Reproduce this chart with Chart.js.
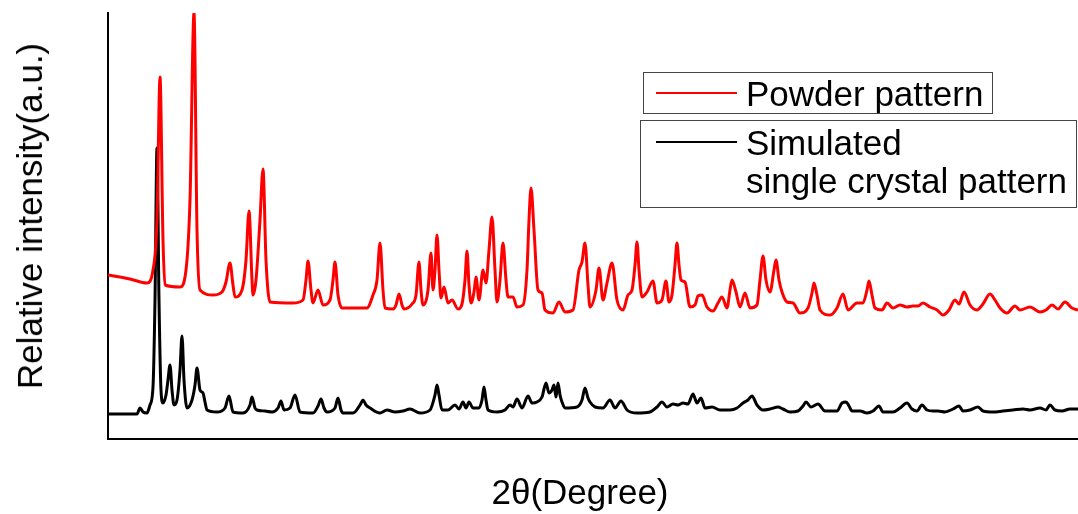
<!DOCTYPE html>
<html>
<head>
<meta charset="utf-8">
<script src="https://cdn.jsdelivr.net/npm/chart.js@4/dist/chart.umd.min.js"></script>
<style>
  html, body { margin: 0; padding: 0; background: #fff; }
  #wrap { position: relative; width: 1078px; height: 514px; overflow: hidden; }
  canvas { position: absolute; left: 0; top: 0; }
  .lg { position: absolute; border: 1px solid #444; box-sizing: border-box; background: #fff; }
  .lgline { position: absolute; height: 2px; }
  .txt { position: absolute; font-family: "Liberation Sans", Arial, sans-serif; font-size: 35px; color: #000; white-space: nowrap; }
  .lgtext { line-height: 38px; }
  #xt { left: 380px; width: 400px; top: 472px; line-height: 40px; text-align: center; }
  #yt { left: 30px; top: 216px; line-height: 40px; transform: translate(-50%, -50%) rotate(-90deg); }
</style>
</head>
<body>
<div id="wrap">
  <canvas id="c" width="1078" height="514"></canvas>
  <div class="lg" style="left:643px;top:72px;width:350px;height:42px;"></div>
  <div class="lgline" style="left:656px;top:92px;width:81px;background:#ff0000;"></div>
  <div class="txt lgtext" id="lg1" style="left:746px;top:75px;"></div>
  <div class="lg" style="left:640px;top:120px;width:437px;height:88px;"></div>
  <div class="lgline" style="left:656px;top:141px;width:81px;background:#000;"></div>
  <div class="txt lgtext" id="lg2" style="left:746px;top:124px;"></div>
  <div class="txt" id="xt"></div>
  <div class="txt" id="yt"></div>
</div>
<script>
// Series labels
const seriesLabels = ["Powder pattern", "Simulated\nsingle crystal pattern"];
const axisTitles = { x: "2θ(Degree)", y: "Relative intensity(a.u.)" };

// Powder (experimental) pattern: 2θ and intensity (a.u.)
const powderTheta = [3.00,4.10,4.95,5.25,5.45,5.60,5.75,5.85,6.60,6.90,7.10,7.30,7.45,7.60,8.25,8.70,8.90,9.10,9.25,9.35,9.70,9.90,10.05,10.20,10.25,10.40,10.60,10.75,10.90,11.10,12.25,12.75,12.90,13.00,13.15,13.25,13.50,13.75,14.10,14.25,14.35,14.50,14.70,15.95,16.25,16.45,16.60,16.75,16.85,17.25,17.40,17.55,17.70,17.80,18.20,18.40,18.55,18.65,18.75,19.00,19.15,19.25,19.35,19.45,19.55,19.65,19.80,20.00,20.20,20.50,20.70,20.85,20.95,21.05,21.15,21.30,21.40,21.55,21.75,21.90,22.05,22.20,22.35,22.45,22.60,22.75,22.90,23.00,23.25,23.45,23.75,23.95,24.05,24.15,24.30,24.50,24.70,24.85,25.25,25.55,25.85,26.25,26.55,26.70,26.85,27.00,27.10,27.40,27.55,27.75,27.95,28.20,28.45,28.75,29.00,29.20,29.35,29.45,29.55,29.70,29.95,30.25,30.45,30.70,30.90,31.05,31.20,31.35,31.45,31.55,31.65,31.85,32.10,32.35,32.50,32.70,32.95,33.25,33.50,33.70,33.95,34.10,34.20,34.40,34.60,34.85,35.10,35.45,35.60,35.75,35.90,36.10,36.30,36.40,36.55,36.70,36.95,37.25,37.60,38.00,38.20,38.30,38.45,38.60,39.10,39.45,39.75,40.00,40.45,40.75,40.95,41.05,41.20,41.35,41.70,41.95,42.25,42.60,42.95,43.25,43.50,43.75,44.10,44.45,44.75,45.05,45.35,45.55,45.80,46.10,46.45,46.75,47.10,47.35,47.60,47.95,48.35,48.60,49.10,49.60,49.90,50.20,50.50,50.85,51.20,51.50];
const powderIntensity = [164,160,156,169,219,362,199,154,152,169,239,426,209,149,144,147,157,176,154,142,149,179,228,159,144,159,219,270,179,137,136,139,159,178,149,136,149,134,139,159,177,144,131,131,144,159,196,149,131,130,134,145,134,130,135,144,177,149,134,149,186,149,169,204,169,141,152,136,139,130,135,159,188,154,136,147,162,139,169,156,189,222,169,137,159,196,159,142,142,132,134,169,219,251,209,149,146,129,126,137,127,129,169,177,196,154,132,149,171,139,156,176,139,129,144,149,174,197,169,142,147,158,136,139,158,137,144,174,196,174,159,157,132,134,143,144,132,128,136,142,131,149,159,147,132,146,131,134,159,183,159,147,169,179,159,147,137,136,126,131,146,156,144,129,124,131,145,129,136,136,149,158,144,131,129,136,131,134,132,133,133,136,132,129,124,129,139,135,147,134,129,135,145,139,131,126,133,129,132,127,129,134,130,137,131,129];

// Simulated single crystal pattern: 2θ and intensity (a.u.)
const simTheta = [3.00,4.45,4.60,4.75,4.95,5.10,5.25,5.35,5.45,5.55,5.65,5.75,5.90,6.00,6.10,6.20,6.30,6.45,6.60,6.70,6.80,6.95,7.20,7.35,7.45,7.60,7.75,7.85,7.95,8.45,8.85,9.05,9.25,9.75,10.10,10.20,10.35,10.45,10.85,11.20,11.50,11.65,11.80,12.10,12.35,12.60,13.25,13.50,13.65,13.80,13.95,14.35,14.50,14.65,14.75,15.25,15.60,15.75,15.90,16.10,16.60,16.95,17.35,17.75,18.10,18.60,19.10,19.35,19.45,19.55,19.70,20.00,20.35,20.55,20.75,20.90,21.05,21.25,21.55,21.70,21.80,21.90,22.00,22.45,22.85,23.10,23.25,23.45,23.70,24.00,24.20,24.45,24.70,24.90,25.05,25.20,25.30,25.40,25.50,25.60,25.70,25.85,26.45,26.70,26.85,27.00,27.10,27.35,27.75,28.10,28.35,28.65,28.95,29.45,30.10,30.45,30.70,30.95,31.25,31.50,31.75,32.00,32.25,32.45,32.65,32.85,33.20,33.60,34.10,34.45,34.75,35.00,35.20,35.45,35.75,36.10,36.50,36.75,37.10,37.50,37.75,37.90,38.15,38.50,38.85,39.45,39.70,39.90,40.05,40.20,40.60,40.95,41.25,41.55,41.75,42.25,42.60,42.95,43.20,43.45,43.70,43.95,44.25,44.50,44.85,45.25,45.55,45.75,46.10,46.50,46.75,47.25,47.75,48.25,48.75,49.10,49.60,49.90,50.10,50.35,50.70,51.10,51.50];
const simIntensity = [25,25,31,27,26,34,52,139,291,139,49,36,44,59,74,49,34,39,69,103,59,31,39,54,71,49,46,37,29,27,31,43,27,26,34,42,31,29,28,27,31,38,29,31,44,27,26,33,40,31,27,31,41,29,26,26,34,39,34,31,26,29,27,28,30,26,29,44,54,44,29,29,34,30,37,31,37,31,31,39,52,39,29,27,29,34,32,40,31,43,36,37,42,56,46,49,54,42,56,44,37,31,32,39,51,41,37,32,31,39,31,38,29,26,27,32,37,32,35,34,36,35,45,36,41,31,32,29,29,31,36,39,43,34,29,30,32,30,27,28,33,37,32,35,28,28,36,37,33,28,28,26,28,33,27,27,31,36,30,28,34,29,28,28,27,30,33,28,29,32,28,27,28,29,30,29,31,29,34,29,28,30,30];

// Axis ranges
const xRange = [3, 51.5];
const yRange = [0, 426];

function toPoints(xs, ys) { return xs.map((x, i) => ({ x: x, y: ys[i] })); }
function esc(s) { return s.replace(/&/g,'&amp;').replace(/</g,'&lt;'); }

document.getElementById('lg1').textContent = seriesLabels[0];
document.getElementById('lg2').innerHTML = seriesLabels[1].split('\n').map(esc).join('<br>');
document.getElementById('xt').textContent = axisTitles.x;
document.getElementById('yt').textContent = axisTitles.y;

new Chart(document.getElementById('c'), {
  type: 'scatter',
  data: {
    datasets: [
      { label: seriesLabels[0], data: toPoints(powderTheta, powderIntensity), showLine: true, borderColor: '#ff0000', borderWidth: 3, pointRadius: 0, cubicInterpolationMode: 'monotone', fill: false },
      { label: seriesLabels[1], data: toPoints(simTheta, simIntensity), showLine: true, borderColor: '#000000', borderWidth: 3, pointRadius: 0, cubicInterpolationMode: 'monotone', fill: false }
    ]
  },
  options: {
    responsive: false,
    animation: false,
    events: [],
    layout: { padding: { top: 13, right: 0, left: 0, bottom: 0 } },
    plugins: { legend: { display: false }, tooltip: { enabled: false } },
    scales: {
      x: {
        type: 'linear', min: xRange[0], max: xRange[1],
        grid: { display: false },
        border: { display: true, color: '#000', width: 2 },
        ticks: { display: false },
        title: { display: false },
        afterFit: (s) => { s.height = 75; }
      },
      y: {
        type: 'linear', min: yRange[0], max: yRange[1],
        grid: { display: false },
        border: { display: true, color: '#000', width: 2 },
        ticks: { display: false },
        title: { display: false },
        afterFit: (s) => { s.width = 108; }
      }
    }
  }
});
</script>
</body>
</html>
